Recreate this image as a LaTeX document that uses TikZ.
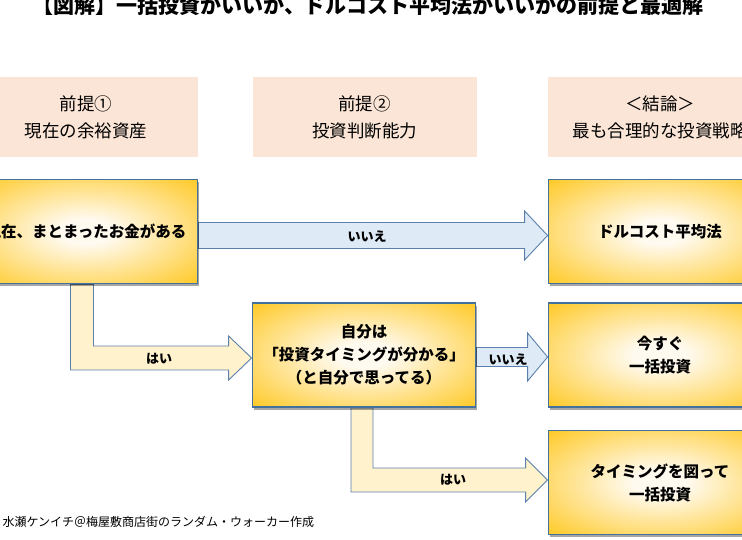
\documentclass[tikz,border=0pt]{standalone}
\usepackage{fontspec}
\setmainfont{Noto Sans CJK JP}
\usetikzlibrary{calc,shadows,backgrounds}
\definecolor{headfill}{HTML}{FBE5D6}
\definecolor{boxline}{HTML}{41719C}
\definecolor{boxgold}{HTML}{FFC000}
\definecolor{boxglow}{HTML}{FFFAF0}
\definecolor{nofill}{HTML}{DEEBF7}
\definecolor{yesfill}{HTML}{FFF2CC}
\definecolor{arrowline}{HTML}{5B80AC}
\pgfdeclareradialshading{goldglow}{\pgfpoint{0bp}{0bp}}{color(0bp)=(boxglow);color(6bp)=(boxglow);color(41bp)=(boxgold);color(80bp)=(boxgold)}
\tikzset{
  header/.style={fill=headfill, minimum width=224pt, minimum height=80pt, align=center,
    font=\fontsize{17.5}{27}\selectfont},
  choice/.style={shading=goldglow, draw=boxline, line width=1.8pt, minimum width=223pt,
    minimum height=104pt, align=center, font=\fontsize{15.5}{23}\selectfont\bfseries,
    drop shadow={shadow xshift=1.5pt, shadow yshift=-2.5pt, fill=black, opacity=0.35}},
  noarrow/.style={fill=nofill, draw=arrowline, line width=0.9pt},
  yesarrow/.style={fill=yesfill, draw=arrowline, line width=0.9pt},
  lbl/.style={font=\fontsize{13}{13}\selectfont\bfseries},
}
\begin{document}
\begin{tikzpicture}[x=1pt,y=-1pt]
  \useasboundingbox (0,0) rectangle (742,540);
  \clip (0,0) rectangle (742,540);
  \node (title) at (368,5) {\fontsize{21}{21}\selectfont\bfseries 【図解】一括投資がいいか、ドルコスト平均法がいいかの前提と最適解};
  \node[header] (pre1) at (86,117) {前提①\\現在の余裕資産};
  \node[header] (pre2) at (364.5,117) {前提②\\投資判断能力};
  \node[header] (concl) at (660,117) {＜結論＞\\最も合理的な投資戦略};
  \node[choice] (now) at (86,231.5) {現在、まとまったお金がある};
  \node[choice] (judge) at (364,355) {自分は\\「投資タイミングが分かる」\\（と自分で思ってる）};
  \node[choice] (dca) at (660,231.5) {ドルコスト平均法};
  \node[choice] (lumpnow) at (660,355) {今すぐ\\一括投資};
  \node[choice] (lumptiming) at (660,482.5) {タイミングを図って\\一括投資};
  \coordinate (t1) at ($(dca.west)+(0,4)$);
  \coordinate (t2) at ($(judge.west)+(0,3)$);
  \coordinate (t3) at ($(lumpnow.west)+(0,2)$);
  \coordinate (t4) at ($(lumptiming.west)+(0,-2.5)$);
  \begin{scope}[on background layer]
    \draw[noarrow] ($(now.east |- t1)+(0,-13)$) -- ($(t1)+(-23,-13)$) -- ($(t1)+(-23,-24.5)$)
      -- (t1) -- ($(t1)+(-23,24.5)$) -- ($(t1)+(-23,13)$) -- ($(now.east |- t1)+(0,13)$) -- cycle;
    \draw[yesarrow] ($(now.south)+(-15.5,0)$) |- ($(t2)+(-23,12)$) -- ($(t2)+(-23,22)$) -- (t2)
      -- ($(t2)+(-23,-22)$) -- ($(t2)+(-23,-12)$) -| ($(now.south)+(7.5,0)$) -- cycle;
    \draw[noarrow] ($(judge.east |- t3)+(0,-9.5)$) -- ($(t3)+(-20,-9.5)$) -- ($(t3)+(-20,-24)$)
      -- (t3) -- ($(t3)+(-20,24)$) -- ($(t3)+(-20,9.5)$) -- ($(judge.east |- t3)+(0,9.5)$) -- cycle;
    \draw[yesarrow] ($(judge.south)+(-13,0)$) |- ($(t4)+(-22,12)$) -- ($(t4)+(-22,22)$) -- (t4)
      -- ($(t4)+(-22,-22)$) -- ($(t4)+(-22,-12)$) -| ($(judge.south)+(9,0)$) -- cycle;
  \end{scope}
  \node[lbl] (no1) at (367,237) {いいえ};
  \node[lbl] (yes1) at (159,359) {はい};
  \node[lbl] (no2) at (508,360) {いいえ};
  \node[lbl] (yes2) at (453,480) {はい};
  \node[anchor=west, font=\fontsize{12}{12}\selectfont] (credit) at (-1,522) {水瀬ケンイチ＠梅屋敷商店街のランダム・ウォーカー作成};
\end{tikzpicture}
\end{document}
